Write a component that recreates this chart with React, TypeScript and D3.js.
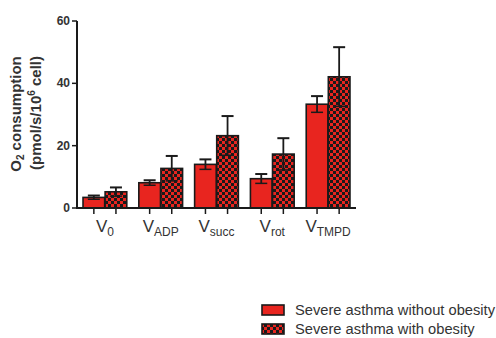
import React from "react";
import * as d3 from "d3";

const categories = ["0", "ADP", "succ", "rot", "TMPD"];
const seriesNames = ["Severe asthma without obesity", "Severe asthma with obesity"];
const withoutObesity = [3.4, 8.1, 14.0, 9.4, 33.3];
const withoutObesityErr = [0.6, 0.8, 1.6, 1.5, 2.6];
const withObesity = [5.2, 12.7, 23.2, 17.3, 42.1];
const withObesityErr = [1.4, 4.0, 6.3, 5.1, 9.5];
const yTicks = [0, 20, 40, 60];

export default function App() {
  const W = 496, H = 338;
  const y = d3.scaleLinear().domain([0, 60]).range([208, 21]);
  const x0 = d3.scaleBand().domain(categories).range([77, 356]).paddingInner(0.2).paddingOuter(0.1);
  const x1 = d3.scaleBand().domain(["a", "b"]).range([0, x0.bandwidth()]).padding(0.02);
  const series = [
    { vals: withoutObesity, errs: withoutObesityErr, fill: "#e8251f" },
    { vals: withObesity, errs: withObesityErr, fill: "url(#checker)" },
  ];
  const keys = ["a", "b"];
  const font = "Arial, 'Liberation Sans', sans-serif";
  return (
    <svg width={W} height={H} style={{ position: "absolute", left: 0, top: 0, background: "#fff" }}>
      <defs>
        <pattern id="checker" width="6" height="6" patternUnits="userSpaceOnUse">
          <rect width="6" height="6" fill="#e8251f" />
          <rect width="3" height="3" fill="#1a1a1a" />
          <rect x="3" y="3" width="3" height="3" fill="#1a1a1a" />
        </pattern>
      </defs>
      {categories.map((c, ci) =>
        series.map((s, si) => {
          const bx = (x0(c) as number) + (x1(keys[si]) as number);
          const bw = x1.bandwidth();
          const v = s.vals[ci];
          const e = s.errs[ci];
          const cx = bx + bw / 2;
          return (
            <g key={c + si}>
              <rect x={bx} y={y(v)} width={bw} height={y(0) - y(v)} fill={s.fill} stroke="#1a1a1a" strokeWidth={1.6} />
              <line x1={cx} x2={cx} y1={y(v + e)} y2={y(Math.max(0, v - e))} stroke="#1a1a1a" strokeWidth={1.8} />
              <line x1={cx - 6} x2={cx + 6} y1={y(v + e)} y2={y(v + e)} stroke="#1a1a1a" strokeWidth={2} />
              <line x1={cx - 6} x2={cx + 6} y1={y(Math.max(0, v - e))} y2={y(Math.max(0, v - e))} stroke="#1a1a1a" strokeWidth={1.5} />
              <line x1={cx} x2={cx} y1={y(0)} y2={y(0) + 6} stroke="#1a1a1a" strokeWidth={1.5} />
            </g>
          );
        })
      )}
      <line x1={77} x2={77} y1={y(60)} y2={y(0) + 1} stroke="#1a1a1a" strokeWidth={2} />
      <line x1={76} x2={356} y1={y(0)} y2={y(0)} stroke="#1a1a1a" strokeWidth={2} />
      {yTicks.map((t) => (
        <g key={t}>
          <line x1={72} x2={77} y1={y(t)} y2={y(t)} stroke="#1a1a1a" strokeWidth={1.5} />
          <text x={70} y={y(t) + 4} textAnchor="end" fontFamily={font} fontWeight="bold" fontSize={12} fill="#333">
            {t}
          </text>
        </g>
      ))}
      {categories.map((c) => {
        const cx = (x0(c) as number) + x0.bandwidth() / 2;
        return (
          <text key={c} x={cx} y={232} textAnchor="middle" fontFamily={font} fontSize={17} fill="#333">
            V<tspan fontSize={12} dy={4}>{c}</tspan>
          </text>
        );
      })}
      <text transform="translate(21,114) rotate(-90)" textAnchor="middle" fontFamily={font} fontWeight="bold" fontSize={15} fill="#333">
        O<tspan fontSize={10} dy={3}>2</tspan><tspan dy={-3}> consumption</tspan>
      </text>
      <text transform="translate(41,113) rotate(-90)" textAnchor="middle" fontFamily={font} fontWeight="bold" fontSize={15} fill="#333">
        (pmol/s/10<tspan fontSize={10} dy={-6}>6</tspan><tspan dy={6}> cell)</tspan>
      </text>
      {seriesNames.map((n, i) => (
        <g key={n}>
          <rect x={262} y={305 + i * 19} width={22} height={10} fill={series[i].fill} stroke="#1a1a1a" strokeWidth={1.6} />
          <text x={295} y={315 + i * 19} fontFamily={font} fontSize={14.7} fill="#333">
            {n}
          </text>
        </g>
      ))}
    </svg>
  );
}
